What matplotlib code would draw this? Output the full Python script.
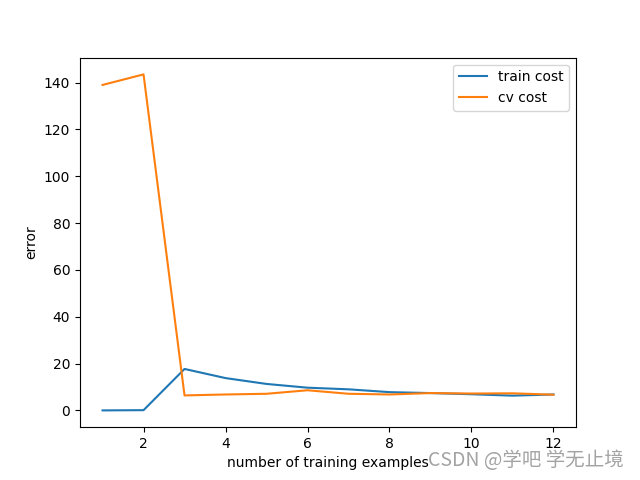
import matplotlib.pyplot as plt

# number of training examples
m = [1, 2, 3, 4, 5, 6, 7, 8, 9, 10, 11, 12]
train_cost = [0.0, 0.1, 17.7, 13.8, 11.3, 9.7, 9.0, 7.8, 7.4, 6.9, 6.3, 6.8]
cv_cost = [139.0, 143.5, 6.4, 6.8, 7.1, 8.6, 7.1, 6.8, 7.4, 7.2, 7.3, 6.7]

fig = plt.figure(figsize=(6.4, 4.8), dpi=100)
ax = fig.add_subplot(1, 1, 1)
ax.plot(m, train_cost, label="train cost")
ax.plot(m, cv_cost, label="cv cost")
ax.set_xlabel("number of training examples")
ax.set_ylabel("error")
ax.legend()

fig.text(0.975, 0.018, "CSDN @学吧 学无止境", ha="right", va="bottom",
         fontsize=14, color="#999999", alpha=0.9,
         family=["Noto Sans CJK SC", "DejaVu Sans"])

fig.savefig("out.png")
